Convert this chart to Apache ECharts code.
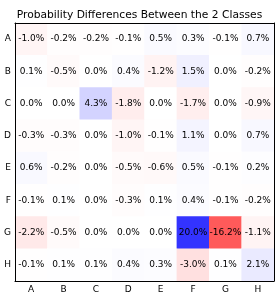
<!DOCTYPE html>
<html>
<head>
<meta charset="utf-8">
<script src="https://cdn.jsdelivr.net/npm/echarts@6/dist/echarts.min.js"></script>
<style>html,body{margin:0;padding:0;background:#fff;}#c{width:279px;height:298px;}</style>
</head>
<body>
<div id="c"></div>
<script>
var xCategories = ['A','B','C','D','E','F','G','H'];
var yCategories = ['A','B','C','D','E','F','G','H'];
var rowA = [-1.0, -0.2, -0.2, -0.1, 0.5, 0.3, -0.1, 0.7];
var rowB = [0.1, -0.5, 0.0, 0.4, -1.2, 1.5, 0.0, -0.2];
var rowC = [0.0, 0.0, 4.3, -1.8, 0.0, -1.7, 0.0, -0.9];
var rowD = [-0.3, -0.3, 0.0, -1.0, -0.1, 1.1, 0.0, 0.7];
var rowE = [0.6, -0.2, 0.0, -0.5, -0.6, 0.5, -0.1, 0.2];
var rowF = [-0.1, 0.1, 0.0, -0.3, 0.1, 0.4, -0.1, -0.2];
var rowG = [-2.2, -0.5, 0.0, 0.0, 0.0, 20.0, -16.2, -1.1];
var rowH = [-0.1, 0.1, 0.1, 0.4, 0.3, -3.0, 0.1, 2.1];
var rows = [rowA, rowB, rowC, rowD, rowE, rowF, rowG, rowH];

var data = [];
rows.forEach(function (r, yi) {
  r.forEach(function (v, xi) { data.push([xi, yi, v]); });
});

var font = 'DejaVu Sans';
var chart = echarts.init(document.getElementById('c'), null, {renderer: 'canvas'});
var lineStyle = {color: '#000', width: 1};
function axisCommon(extra) {
  var o = {
    z: 10,
    axisLine: {lineStyle: lineStyle},
    axisTick: {inside: true, length: 3, alignWithLabel: true, lineStyle: lineStyle},
    splitLine: {show: false}
  };
  for (var k in extra) o[k] = extra[k];
  return o;
}
chart.setOption({
  animation: false,
  title: {
    text: 'Probability Differences Between the 2 Classes',
    left: 'center', top: 5,
    textStyle: {fontFamily: font, fontSize: 10.7, fontWeight: 'normal', color: '#000'}
  },
  grid: {left: 15, top: 23, right: 5, bottom: 17, containLabel: false},
  xAxis: [
    axisCommon({type: 'category', data: xCategories, position: 'bottom',
      axisLabel: {fontFamily: font, fontSize: 9, color: '#000', margin: 4}}),
    axisCommon({type: 'category', data: xCategories, position: 'top',
      axisLabel: {show: false}})
  ],
  yAxis: [
    axisCommon({type: 'category', data: yCategories, inverse: true, position: 'left',
      axisLabel: {fontFamily: font, fontSize: 9, color: '#000', margin: 4}}),
    axisCommon({type: 'category', data: yCategories, inverse: true, position: 'right',
      axisLabel: {show: false}})
  ],
  visualMap: {
    show: false, type: 'continuous', min: -20, max: 20, dimension: 2,
    inRange: {color: ['#ff3333', '#ffffff', '#3333ff']}
  },
  series: [{
    type: 'heatmap', xAxisIndex: 0, yAxisIndex: 0, data: data,
    label: {
      show: true, fontFamily: font, fontSize: 9, color: '#000',
      formatter: function (p) { return p.value[2].toFixed(1) + '%'; }
    },
    itemStyle: {borderWidth: 0},
    emphasis: {disabled: true}
  }]
});
</script>
</body>
</html>
